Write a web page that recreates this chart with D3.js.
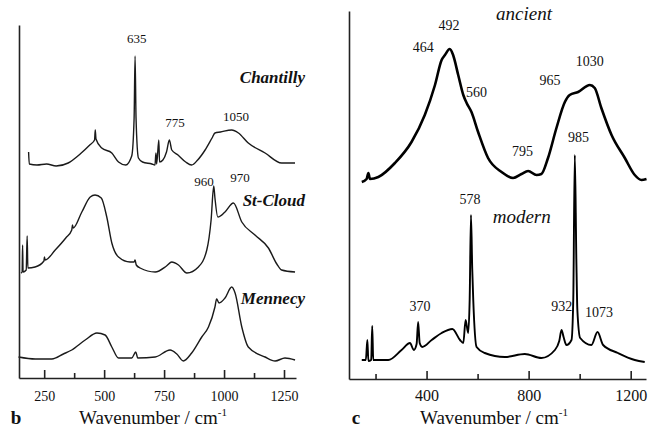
<!DOCTYPE html>
<meta charset="utf-8">
<script src="https://d3js.org/d3.v7.min.js"></script>
<style>
  body { margin: 0; background: #fff; }
</style>
<div id="chart"></div>
<script>

// spectra as [wavenumber, intensity (a.u., offset included)]
var chantilly = [[185,22.6],[188,21.4],[220,21.3],[260,21.4],[300,21.2],[350,21.5],[400,22.4],[440,23.3],[460,23.8],[463,24.8],[466,23.9],
  [490,23.0],[532,22.5],[560,21.6],[590,21.3],[615,22.2],[625,26.0],[629,32.2],[633,26.0],[643,22.0],[660,21.6],[699,21.4],[712,21.3],
  [716,22.5],[719,21.4],[728,23.8],[731,21.6],[745,21.8],[760,22.6],[772,23.8],[782,22.8],[808,22.3],[840,21.6],[865,21.3],[890,21.8],
  [921,22.8],[950,24.0],[962,24.5],[985,24.6],[1032,24.8],[1060,24.5],[1101,23.5],[1171,22.5],[1240,21.5],[1296,21.5]];

var stCloud = [[153,10.5],[158,10.6],[160,13.3],[162,10.6],[175,10.8],[179,14.2],[182,11.0],[212,11.1],[249,11.7],[251,12.1],[254,11.8],
  [296,12.8],[340,14.0],[365,14.8],[368,15.3],[371,15.0],[407,16.6],[442,18.1],[462,18.3],[488,18.0],[511,16.1],[532,13.5],[560,12.1],
  [608,11.6],[625,11.6],[629,11.8],[634,11.3],[650,11.0],[713,10.6],[760,11.2],[782,11.6],[810,11.3],[845,10.5],[893,11.1],[928,12.8],
  [946,15.8],[957,19.2],[962,18.0],[974,16.1],[1004,16.6],[1039,17.5],[1074,15.6],[1129,14.3],[1185,13.0],[1220,11.4],[1240,10.8],[1296,10.6]];

var mennecy = [[143,2.1],[213,1.9],[282,1.9],[330,2.4],[365,2.8],[421,3.8],[470,4.5],[504,4.3],[532,3.1],[560,2.0],[615,2.0],[632,2.6],
  [640,2.0],[713,2.1],[775,2.8],[803,2.4],[830,1.7],[865,2.5],[907,4.1],[935,5.1],[962,7.1],[969,7.9],[979,7.5],[1004,8.0],[1032,9.1],
  [1046,8.5],[1074,5.1],[1101,3.1],[1171,2.1],[1213,1.7],[1254,2.0],[1296,1.8]];

var ancient = [[146,19.7],[165,20.0],[172,20.6],[178,20.0],[211,20.2],[276,21.6],[341,23.7],[393,26.4],[433,29.4],[459,31.9],[472,32.4],
  [491,33.0],[504,32.4],[524,30.4],[544,28.4],[557,27.6],[576,26.7],[602,24.7],[641,22.1],[694,20.7],[739,20.1],[772,20.5],[798,20.8],
  [831,20.4],[850,20.5],[876,22.1],[909,25.1],[942,27.7],[961,28.4],[994,28.7],[1040,29.4],[1059,29.1],[1085,27.1],[1125,24.4],
  [1177,22.1],[1216,20.4],[1242,19.9],[1262,20.0]];

var modern = [[146,1.9],[162,1.9],[168,3.9],[172,1.8],[183,1.9],[187,5.3],[191,1.9],[198,1.9],[250,1.9],[302,2.9],[335,3.6],[350,2.9],
  [361,3.5],[367,5.7],[373,3.6],[383,3.2],[420,3.9],[459,4.6],[501,5.0],[531,3.9],[544,3.6],[553,5.9],[563,4.6],[569,8.0],[574,16.4],
  [579,11.0],[583,7.9],[596,3.2],[628,2.6],[707,2.2],[785,2.5],[850,2.1],[903,2.9],[920,3.8],[929,4.9],[937,4.2],[948,3.4],[968,3.9],
  [975,8.0],[981,22.4],[987,12.0],[991,6.9],[1002,4.1],[1046,3.4],[1070,4.7],[1092,3.4],[1150,2.6],[1216,1.9],[1255,1.7]];

// tick values
var ticksB = [250, 500, 750, 1000, 1250], minorB = [375, 625, 875, 1125];
var ticksC = [400, 800, 1200], minorC = [200, 600, 1000];

// peak labels [text, wavenumber, intensity]
var labelsB = [["635",636,33.55],["775",795,25.15],["1050",1050,25.75],["960",916,19.25],["970",1067,19.65]];
var labelsC = [["492",488,34.9],["464",387,32.7],["560",596,28.2],["965",884,29.4],["1030",1040,31.3],["795",776,22.3],
  ["985",995,23.7],["578",570,17.5],["370",374,6.8],["932",930,6.8],["1073",1076,6.2]];

var FONT = "'Liberation Serif', 'Times New Roman', Times, serif";

var svg = d3.select("#chart").append("svg")
  .attr("width", 661).attr("height", 431)
  .style("background", "#fff");

// ---------- panel b ----------
var xB = d3.scaleLinear().domain([145, 1300]).range([19, 296]);
var yB = d3.scaleLinear().domain([0, 35.3]).range([378, 25]);

var lineB = d3.line().x(d => xB(d[0])).y(d => yB(d[1])).curve(d3.curveMonotoneX);
[chantilly, stCloud, mennecy].forEach(function(s) {
  svg.append("path").datum(s).attr("d", lineB)
    .attr("fill", "none").attr("stroke", "#1a1a1a").attr("stroke-width", 1.4);
});

// ---------- panel c ----------
var xC = d3.scaleLinear().domain([96, 1260]).range([349, 646]);
var yC = d3.scaleLinear().domain([0, 36.8]).range([379, 11]);

var lineC = d3.line().x(d => xC(d[0])).y(d => yC(d[1])).curve(d3.curveMonotoneX);
svg.append("path").datum(ancient).attr("d", lineC)
  .attr("fill", "none").attr("stroke", "#000").attr("stroke-width", 2.6).attr("stroke-linejoin", "round");
svg.append("path").datum(modern).attr("d", lineC)
  .attr("fill", "none").attr("stroke", "#000").attr("stroke-width", 1.9).attr("stroke-linejoin", "round");

// axes
function drawAxes(x, y, ticks, minor, bottom, fs, pad) {
  var g = svg.append("g").attr("transform", "translate(0," + bottom + ")");
  g.call(d3.axisBottom(x).tickValues(ticks).tickSizeInner(-8).tickSizeOuter(0).tickPadding(pad).tickFormat(d3.format("d")));
  g.selectAll("text").style("font-size", fs + "px");
  var g2 = svg.append("g").attr("transform", "translate(0," + bottom + ")");
  g2.call(d3.axisBottom(x).tickValues(minor).tickSizeInner(-5).tickSizeOuter(0).tickFormat(""));
  g2.select(".domain").remove();
  var gy = svg.append("g").attr("transform", "translate(" + x.range()[0] + ",0)");
  gy.call(d3.axisLeft(y).ticks(0).tickSizeOuter(0));
  svg.selectAll(".domain, .tick line").attr("stroke", "#222").attr("stroke-width", 1.6);
}
drawAxes(xB, yB, ticksB, minorB, 378, 14, 13);
drawAxes(xC, yC, ticksC, minorC, 379, 16, 11);

// axis titles
function axisTitle(cx, letter, lx) {
  var t = svg.append("text").attr("x", cx).attr("y", 424).attr("text-anchor", "middle").style("font-size", "19px");
  t.append("tspan").text("Wavenumber / cm");
  t.append("tspan").attr("dy", "-8").style("font-size", "11px").text("-1");
  svg.append("text").attr("x", lx).attr("y", 424).attr("text-anchor", "middle")
    .style("font-size", "19px").style("font-weight", "bold").text(letter);
}
axisTitle(153, "b", 16);
axisTitle(494, "c", 356);

// peak labels
labelsB.forEach(function(l) {
  svg.append("text").attr("x", xB(l[1])).attr("y", yB(l[2])).attr("text-anchor", "middle")
    .style("font-size", "13px").text(l[0]);
});
labelsC.forEach(function(l) {
  svg.append("text").attr("x", xC(l[1])).attr("y", yC(l[2])).attr("text-anchor", "middle")
    .style("font-size", "14px").text(l[0]);
});

// sample names
var namesB = [["Chantilly", 29.5], ["St-Cloud", 17.2], ["Mennecy", 7.4]];
namesB.forEach(function(n) {
  svg.append("text").attr("x", 305).attr("y", yB(n[1])).attr("text-anchor", "end")
    .style("font-size", "17px").style("font-weight", "bold").style("font-style", "italic").text(n[0]);
});
svg.append("text").attr("x", xC(782)).attr("y", yC(35.9)).attr("text-anchor", "middle")
  .style("font-size", "19px").style("font-style", "italic").text("ancient");
svg.append("text").attr("x", xC(773)).attr("y", yC(15.6)).attr("text-anchor", "middle")
  .style("font-size", "19px").style("font-style", "italic").text("modern");

// serif everywhere
svg.selectAll("g").attr("font-family", null);
svg.selectAll("text").style("font-family", FONT).attr("fill", "#111");

</script>
